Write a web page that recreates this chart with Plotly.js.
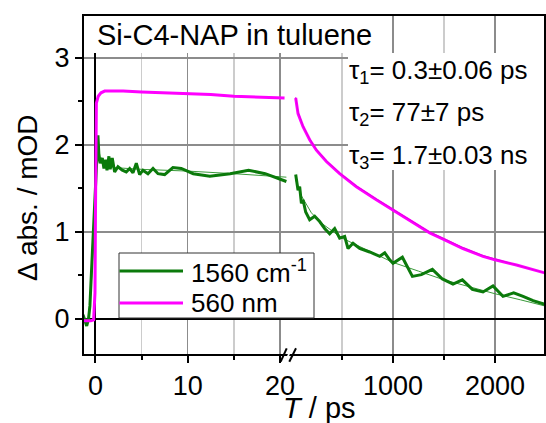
<!DOCTYPE html>
<html>
<head>
<meta charset="utf-8">
<script src="https://cdn.plot.ly/plotly-3.0.1.min.js"></script>
<style>html,body{margin:0;padding:0;background:#fff;}#chart{width:546px;height:423px;}</style>
</head>
<body>
<div id="chart"></div>
<script>
// ---- data ----
// early-time segment (ps)
var magT_L = [-1.35, -1.0, -0.5, -0.2, -0.05, 0.0, 0.05, 0.1, 0.3, 0.6, 1.0, 2, 3, 5, 7.5, 10, 12.5, 15, 17.5, 20.5];
var magV_L = [-0.02, -0.02, -0.02, -0.01, 0.3, 1.2, 2.2, 2.48, 2.56, 2.6, 2.62, 2.62, 2.62, 2.61, 2.6, 2.59, 2.58, 2.56, 2.55, 2.54];
var grnT_L = [-1.35, -1.1, -0.95, -0.75, -0.6, -0.45, -0.25, 0.0, 0.15, 0.27, 0.38, 0.52, 0.74, 0.92, 1.11, 1.25, 1.46, 1.6, 1.82, 2.08, 2.44, 2.91, 3.34, 3.71, 4.07, 4.43, 4.79, 5.15, 5.69, 6.24, 6.78, 7.5, 8.4, 9.3, 10.6, 12.4, 14.6, 16.6, 18.4, 20.7];
var grnV_L = [0.05, -0.05, -0.08, 0.0, 0.15, 0.5, 0.95, 1.5, 1.9, 2.11, 1.87, 1.79, 1.85, 1.73, 1.83, 1.71, 1.87, 1.72, 1.85, 1.69, 1.75, 1.71, 1.69, 1.73, 1.68, 1.79, 1.66, 1.71, 1.67, 1.73, 1.67, 1.66, 1.74, 1.73, 1.67, 1.64, 1.67, 1.71, 1.67, 1.58];
var fitGT_L = [-1.35, -0.8, -0.5, -0.2, 0.0, 0.2, 0.3, 0.5, 1.0, 2, 5, 10, 15, 20.7];
var fitGV_L = [0.0, 0.0, 0.3, 0.9, 1.5, 1.95, 1.98, 1.87, 1.78, 1.74, 1.72, 1.70, 1.67, 1.63];
// late-time segment (ps)
var magT_R = [46, 69, 118, 183, 249, 347, 477, 641, 837, 1000, 1164, 1360, 1507, 1686, 1882, 2000, 2210, 2373, 2487];
var magV_R = [2.54, 2.36, 2.21, 2.06, 1.94, 1.81, 1.67, 1.52, 1.37, 1.25, 1.13, 0.99, 0.91, 0.81, 0.72, 0.68, 0.62, 0.57, 0.53];
var fitMV_R = [2.55, 2.38, 2.22, 2.07, 1.95, 1.82, 1.68, 1.53, 1.38, 1.26, 1.14, 1.00, 0.92, 0.82, 0.73, 0.69, 0.62, 0.57, 0.53];
var grnT_R = [46, 69, 85, 102, 118, 144, 183, 232, 281, 330, 379, 428, 477, 526, 559, 608, 673, 771, 870, 919, 968, 1000, 1092, 1190, 1278, 1386, 1484, 1588, 1680, 1778, 1882, 1980, 2078, 2183, 2275, 2373, 2487];
var grnV_R = [1.66, 1.48, 1.52, 1.33, 1.37, 1.23, 1.14, 1.18, 1.12, 1.04, 0.98, 1.04, 0.93, 0.95, 0.81, 0.87, 0.81, 0.77, 0.72, 0.76, 0.68, 0.64, 0.71, 0.49, 0.51, 0.57, 0.46, 0.40, 0.45, 0.34, 0.31, 0.38, 0.26, 0.30, 0.26, 0.21, 0.17];
var fitGT_R = [46, 100, 200, 300, 500, 750, 1000, 1250, 1500, 1750, 2000, 2250, 2487];
var fitGV_R = [1.60, 1.42, 1.22, 1.10, 0.93, 0.79, 0.65, 0.55, 0.45, 0.37, 0.29, 0.22, 0.15];

var leftTicks = [0, 10, 20];
var rightTicks = [1000, 2000];
var yTicks = [0, 1, 2, 3];
var seriesNames = ['1560 cm<sup>-1</sup>', '560 nm'];
var tauLabels = ['τ<sub>1</sub>= 0.3±0.06 ps', 'τ<sub>2</sub>= 77±7 ps', 'τ<sub>3</sub>= 1.7±0.03 ns'];
var sampleTitle = 'Si-C4-NAP in tuluene';

var GREEN = '#0b7a0b', GREENFIT = '#3a9a3a', MAG = '#ff00ff';
var FONT = 'Liberation Sans, Arial, sans-serif';

function tr(x, y, xa, color, w) {
  return {x: x, y: y, xaxis: xa, yaxis: 'y', type: 'scatter', mode: 'lines',
          line: {color: color, width: w}, showlegend: false, hoverinfo: 'skip'};
}
var data = [
  tr(fitGT_L, fitGV_L, 'x', GREENFIT, 1),
  tr(grnT_L, grnV_L, 'x', GREEN, 3),
  tr(magT_L, magV_L, 'x', MAG, 3),
  tr(fitGT_R, fitGV_R, 'x2', GREENFIT, 1),
  tr(grnT_R, grnV_R, 'x2', GREEN, 3),
  tr(magT_R, magV_R, 'x2', MAG, 3),
  tr(magT_R, fitMV_R, 'x2', '#e600e6', 1)
];

// pixel helpers for decoration placement (plot area 83..545 x 15..355)
function px(v) { return (v - 83) / 462; }
function py(v) { return (355 - v) / 340; }

var tickfont = {family: FONT, size: 27, color: '#000'};
var GRID = '#8c8c8c', MINOR = '#cccccc';

var layout = {
  width: 546, height: 423,
  margin: {l: 83, r: 1, t: 15, b: 68},
  paper_bgcolor: '#fff', plot_bgcolor: '#fff',
  showlegend: false,
  font: {family: FONT, color: '#000'},
  xaxis: {
    domain: [0, px(291)], range: [-1.35, 21.2], anchor: 'y',
    tickmode: 'array', tickvals: leftTicks,
    ticks: 'outside', ticklen: 7, tickwidth: 2, tickcolor: '#000',
    showgrid: true, gridcolor: GRID, gridwidth: 1.5,
    zeroline: true, zerolinecolor: '#000', zerolinewidth: 2,
    minor: {tickmode: 'array', tickvals: [5, 15], ticks: 'outside', ticklen: 4, tickwidth: 2, tickcolor: '#000', showgrid: true, gridcolor: MINOR, gridwidth: 1.5},
    showline: false, tickfont: tickfont
  },
  xaxis2: {
    domain: [px(291), 1], range: [0, 2490], anchor: 'y',
    tickmode: 'array', tickvals: rightTicks,
    ticks: 'outside', ticklen: 7, tickwidth: 2, tickcolor: '#000',
    showgrid: true, gridcolor: GRID, gridwidth: 1.5,
    zeroline: false,
    minor: {tickmode: 'array', tickvals: [500, 1500], ticks: 'outside', ticklen: 4, tickwidth: 2, tickcolor: '#000', showgrid: true, gridcolor: MINOR, gridwidth: 1.5},
    showline: false, tickfont: tickfont
  },
  yaxis: {
    range: [-0.414, 3.494], anchor: 'x',
    tickmode: 'array', tickvals: yTicks,
    ticks: 'outside', ticklen: 7, tickwidth: 2, tickcolor: '#000',
    showgrid: true, gridcolor: GRID, gridwidth: 1.5,
    zeroline: true, zerolinecolor: '#000', zerolinewidth: 2,
    minor: {dtick: 0.5, ticks: 'outside', ticklen: 4, tickwidth: 2, tickcolor: '#000', showgrid: false},
    showline: false, tickfont: tickfont
  },
  shapes: [
    // white boxes behind the text blocks
    {type: 'rect', xref: 'paper', yref: 'paper', x0: px(85), x1: px(385), y0: py(53), y1: py(16), fillcolor: '#fff', line: {width: 0}, layer: 'above'},
    {type: 'rect', xref: 'paper', yref: 'paper', x0: px(348), x1: 1, y0: py(170), y1: py(53), fillcolor: '#fff', line: {width: 0}, layer: 'above'},
    // frame
    {type: 'rect', xref: 'paper', yref: 'paper', x0: 0, x1: 1, y0: 0, y1: 1, line: {color: '#000', width: 2}, layer: 'above'},
    // axis break
    {type: 'path', xref: 'paper', yref: 'paper', path: 'M' + px(284.5) + ',' + py(362) + ' L' + px(290.5) + ',' + py(348) + ' L' + px(292.5) + ',' + py(348) + ' L' + px(286.5) + ',' + py(362) + ' Z', fillcolor: '#fff', line: {width: 0}, layer: 'above'},
    {type: 'line', xref: 'paper', yref: 'paper', x0: px(280.7), y0: py(361.7), x1: px(286.7), y1: py(348.3), line: {color: '#000', width: 2}, layer: 'above'},
    {type: 'line', xref: 'paper', yref: 'paper', x0: px(289.3), y0: py(361.7), x1: px(296), y1: py(348.3), line: {color: '#000', width: 2}, layer: 'above'},
    // legend box and samples
    {type: 'rect', xref: 'paper', yref: 'paper', x0: px(119), x1: px(314), y0: py(318), y1: py(253), fillcolor: '#fff', line: {color: '#333', width: 1}, layer: 'above'},
    {type: 'line', xref: 'paper', yref: 'paper', x0: px(119.5), x1: px(183), y0: py(271), y1: py(271), line: {color: GREEN, width: 3}, layer: 'above'},
    {type: 'line', xref: 'paper', yref: 'paper', x0: px(119.5), x1: px(183), y0: py(303), y1: py(303), line: {color: MAG, width: 3}, layer: 'above'}
  ],
  annotations: [
    {xref: 'paper', yref: 'paper', x: px(95), y: py(34.5), xanchor: 'left', yanchor: 'middle', text: sampleTitle, showarrow: false, font: {family: FONT, size: 29, color: '#000'}},
    {xref: 'paper', yref: 'paper', x: px(347), y: py(72), xanchor: 'left', yanchor: 'middle', text: tauLabels[0], showarrow: false, font: {family: FONT, size: 26, color: '#000'}},
    {xref: 'paper', yref: 'paper', x: px(347), y: py(114), xanchor: 'left', yanchor: 'middle', text: tauLabels[1], showarrow: false, font: {family: FONT, size: 26, color: '#000'}},
    {xref: 'paper', yref: 'paper', x: px(347), y: py(156), xanchor: 'left', yanchor: 'middle', text: tauLabels[2], showarrow: false, font: {family: FONT, size: 26, color: '#000'}},
    {xref: 'paper', yref: 'paper', x: px(189), y: py(271), xanchor: 'left', yanchor: 'middle', text: seriesNames[0], showarrow: false, font: {family: FONT, size: 26, color: '#000'}},
    {xref: 'paper', yref: 'paper', x: px(189), y: py(303), xanchor: 'left', yanchor: 'middle', text: seriesNames[1], showarrow: false, font: {family: FONT, size: 26, color: '#000'}},
    {xref: 'paper', yref: 'paper', x: px(27), y: py(198), xanchor: 'center', yanchor: 'middle', textangle: -90, text: 'Δ abs. / mOD', showarrow: false, font: {family: FONT, size: 28, color: '#000'}},
    {xref: 'paper', yref: 'paper', x: px(319), y: py(408), xanchor: 'center', yanchor: 'middle', text: '<i>T</i> / ps', showarrow: false, font: {family: FONT, size: 29, color: '#000'}}
  ]
};
Plotly.newPlot('chart', data, layout, {staticPlot: true, displayModeBar: false});
</script>
</body>
</html>
